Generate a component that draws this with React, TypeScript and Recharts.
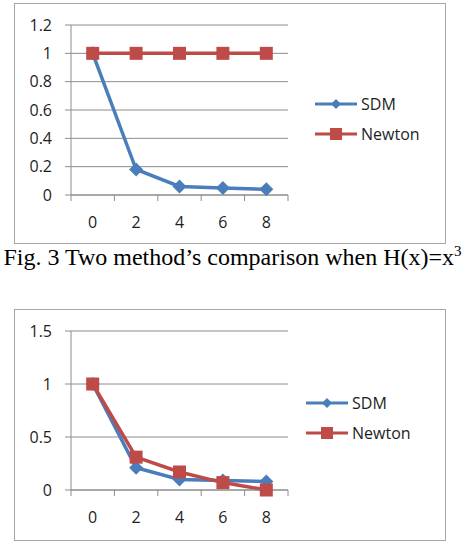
import { LineChart, Line, XAxis, YAxis, CartesianGrid } from 'recharts';

const steps = ['0', '2', '4', '6', '8'];

// H(x) = x^3
const sdmCubic = [1, 0.18, 0.06, 0.05, 0.04];
const newtonCubic = [1, 1, 1, 1, 1];
const cubicTicks = [0, 0.2, 0.4, 0.6, 0.8, 1, 1.2];

// second comparison
const sdmSecond = [1, 0.21, 0.1, 0.09, 0.08];
const newtonSecond = [1, 0.31, 0.17, 0.07, 0];
const secondTicks = [0, 0.5, 1, 1.5];

const BLUE = '#4a7ebb';
const RED = '#be4b48';
const GRID = '#8c8c8c';
const TEXT = '#1e1e1e';
const FONT = '"Open Sans", "Noto Sans", sans-serif';

const CHART_W = 432;
const AXIS_W = 57;
const PLOT_W = 217;
const X_AXIS_H = 34;

const Diamond = ({ cx, cy, color, size = 7 }: any) => (
  <path
    d={`M${cx},${cy - size} L${cx + size},${cy} L${cx},${cy + size} L${cx - size},${cy} Z`}
    fill={color}
  />
);

const Square = ({ cx, cy, color, size = 6.5 }: any) => (
  <rect x={cx - size} y={cy - size} width={size * 2} height={size * 2} fill={color} />
);

// category labels centred in each band, tick marks on the band edges
function StepTick(props: any) {
  const { x, y, payload, index } = props;
  const half = PLOT_W / steps.length / 2;
  const last = index === steps.length - 1;
  return (
    <g>
      <line x1={x - half} x2={x - half} y1={y} y2={y + 6} stroke={GRID} />
      {last && <line x1={x + half} x2={x + half} y1={y} y2={y + 6} stroke={GRID} />}
      <text x={x} y={y + 33} textAnchor="middle" fill={TEXT} fontSize={16} fontFamily={FONT}>
        {payload.value}
      </text>
    </g>
  );
}

function LegendRow({ color, label, marker }: { color: string; label: string; marker: 'diamond' | 'square' }) {
  return (
    <div style={{ display: 'flex', alignItems: 'center', height: 30 }}>
      <svg width={44} height={20}>
        <line x1={0} x2={42} y1={10} y2={10} stroke={color} strokeWidth={3} />
        {marker === 'diamond' ? (
          <Diamond cx={21} cy={10} color={color} size={5} />
        ) : (
          <Square cx={21} cy={10} color={color} size={6} />
        )}
      </svg>
      <span style={{ fontFamily: FONT, fontSize: 16, color: TEXT, marginLeft: 2 }}>{label}</span>
    </div>
  );
}

interface PanelProps {
  top: number;
  height: number;
  plotTop: number;
  plotHeight: number;
  sdm: number[];
  newton: number[];
  ticks: number[];
  legendLeft: number;
  legendTop: number;
}

function Panel({ top, height, plotTop, plotHeight, sdm, newton, ticks, legendLeft, legendTop }: PanelProps) {
  const data = steps.map((s, i) => ({ step: s, SDM: sdm[i], Newton: newton[i] }));
  const max = ticks[ticks.length - 1];
  return (
    <div
      style={{
        position: 'absolute',
        left: 14,
        top,
        width: CHART_W,
        height,
        boxSizing: 'border-box',
        border: '1.5px solid #a6a6a6',
        background: '#fff',
      }}
    >
      <LineChart
        width={CHART_W}
        height={height}
        data={data}
        margin={{
          top: plotTop,
          right: CHART_W - AXIS_W - PLOT_W,
          bottom: height - plotTop - plotHeight - X_AXIS_H,
          left: 0,
        }}
        style={{ position: 'absolute', left: -1.5, top: -1.5 }}
      >
        <CartesianGrid vertical={false} stroke={GRID} strokeWidth={1} />
        <XAxis
          dataKey="step"
          scale="band"
          axisLine={{ stroke: GRID }}
          tickLine={false}
          tickSize={0}
          tickMargin={0}
          height={X_AXIS_H}
          interval={0}
          tick={<StepTick />}
        />
        <YAxis
          domain={[0, max]}
          ticks={ticks}
          width={AXIS_W}
          axisLine={{ stroke: GRID }}
          tickLine={{ stroke: GRID }}
          tickSize={6}
          tickMargin={13}
          tick={{ fill: TEXT, fontSize: 16, fontFamily: FONT }}
          interval={0}
        />
        <Line
          dataKey="SDM"
          stroke={BLUE}
          strokeWidth={3.5}
          isAnimationActive={false}
          dot={(p: any) => <Diamond key={`d${p.index}`} cx={p.cx} cy={p.cy} color={BLUE} />}
          activeDot={false}
        />
        <Line
          dataKey="Newton"
          stroke={RED}
          strokeWidth={3.5}
          isAnimationActive={false}
          dot={(p: any) => <Square key={`s${p.index}`} cx={p.cx} cy={p.cy} color={RED} />}
          activeDot={false}
        />
      </LineChart>
      <div style={{ position: 'absolute', left: legendLeft, top: legendTop }}>
        <LegendRow color={BLUE} label="SDM" marker="diamond" />
        <LegendRow color={RED} label="Newton" marker="square" />
      </div>
    </div>
  );
}

export default function App() {
  return (
    <div style={{ position: 'absolute', left: 0, top: 0, width: 465, height: 555, background: '#fff' }}>
      <Panel
        top={3}
        height={241}
        plotTop={22}
        plotHeight={170}
        sdm={sdmCubic}
        newton={newtonCubic}
        ticks={cubicTicks}
        legendLeft={300}
        legendTop={85}
      />
      <div
        style={{
          position: 'absolute',
          left: 0,
          top: 245,
          width: 465,
          textAlign: 'center',
          fontFamily: '"Liberation Serif", "Times New Roman", serif',
          fontSize: 24,
          lineHeight: '24px',
          color: '#000',
          whiteSpace: 'nowrap',
        }}
      >
        Fig. 3 Two method’s comparison when H(x)=x
        <span style={{ fontSize: 15, position: 'relative', top: -9 }}>3</span>
      </div>
      <Panel
        top={309}
        height={232}
        plotTop={22}
        plotHeight={159}
        sdm={sdmSecond}
        newton={newtonSecond}
        ticks={secondTicks}
        legendLeft={291}
        legendTop={78}
      />
    </div>
  );
}
